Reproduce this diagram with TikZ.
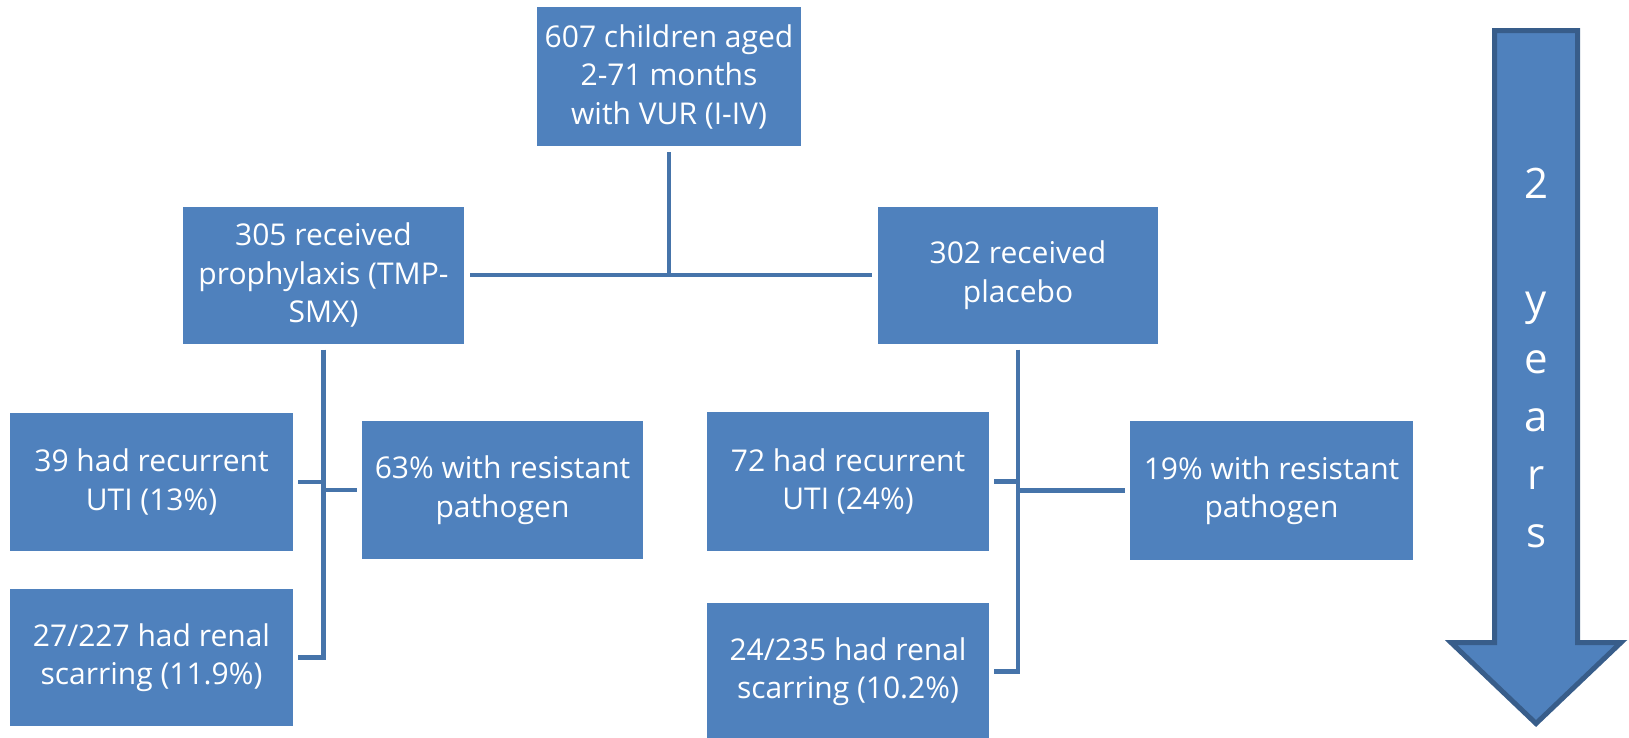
\documentclass[tikz,border=0pt]{standalone}
\usepackage{fontspec}
\setmainfont{Open Sans}
\usetikzlibrary{calc}
\definecolor{boxfill}{HTML}{4F81BD}
\definecolor{linec}{RGB}{70,116,170}
\definecolor{arrowedge}{RGB}{56,93,138}
\begin{document}
\begin{tikzpicture}[x=1pt,y=-1pt,
  box/.style={rectangle, fill=boxfill, text=white, align=center, inner sep=0pt,
    font=\fontsize{30}{38.5}\selectfont},
  conn/.style={draw=linec, line width=4.5pt}]
\useasboundingbox (0,0) rectangle (1629,737);
\clip (0,0) rectangle (1629,737);
% boxes
\node[box, minimum width=264pt, minimum height=139pt] (top) at (669,76.5)
  {607 children aged\\2-71 months\\with VUR (I-IV)};
\node[box, minimum width=281pt, minimum height=137pt] (p305) at (323.5,275)
  {305 received\\prophylaxis (TMP-\\SMX)};
\node[box, minimum width=280pt, minimum height=137pt] (plc) at (1018,275)
  {302 received\\placebo};
\node[box, minimum width=283pt, minimum height=138pt] (b39) at (151.5,482)
  {39 had recurrent\\UTI (13\%)};
\node[box, minimum width=283pt, minimum height=137pt] (b27) at (151.5,657.5)
  {27/227 had renal\\scarring (11.9\%)};
\node[box, minimum width=281pt, minimum height=138pt] (b63) at (502.5,490)
  {63\% with resistant\\pathogen};
\node[box, minimum width=282pt, minimum height=139pt] (b72) at (848,481.5)
  {72 had recurrent\\UTI (24\%)};
\node[box, minimum width=282pt, minimum height=137pt] (b24) at (848,671.5)
  {24/235 had renal\\scarring (10.2\%)};
\node[box, minimum width=283pt, minimum height=139pt] (b19) at (1271.5,490.5)
  {19\% with resistant\\pathogen};
% connectors
\draw[conn] ([yshift=-6pt]top.south) -- (top.south |- p305.east);
\draw[conn] ([xshift=6pt]p305.east) -- ([xshift=-6pt]plc.west);
\draw[conn] ([yshift=-6pt]p305.south) -- (p305.south |- b27.east) -- ([xshift=5pt]b27.east);
\draw[conn] ([xshift=5pt]b39.east) -- (b39.east -| p305.south);
\draw[conn] (b63.west -| p305.south) -- ([xshift=-5pt]b63.west);
\draw[conn] ([yshift=-6pt]plc.south) -- (plc.south |- b24.east) -- ([xshift=5pt]b24.east);
\draw[conn] ([xshift=5pt]b72.east) -- (b72.east -| plc.south);
\draw[conn] (b19.west -| plc.south) -- ([xshift=-5pt]b19.west);
% time arrow
\draw[fill=boxfill, draw=arrowedge, line width=5pt, line join=miter]
  (1494.5,30.5) -- (1577.5,30.5) -- (1577.5,642.5) -- (1621,642.5) -- (1536,723.5)
  -- (1451,642.5) -- (1494.5,642.5) -- cycle;
\node[text=white, align=center, inner sep=0pt, font=\fontsize{42}{58.3}\selectfont]
  (yrs) at (1536,358) {2\\\strut\\y\\e\\a\\r\\s};
\end{tikzpicture}
\end{document}
